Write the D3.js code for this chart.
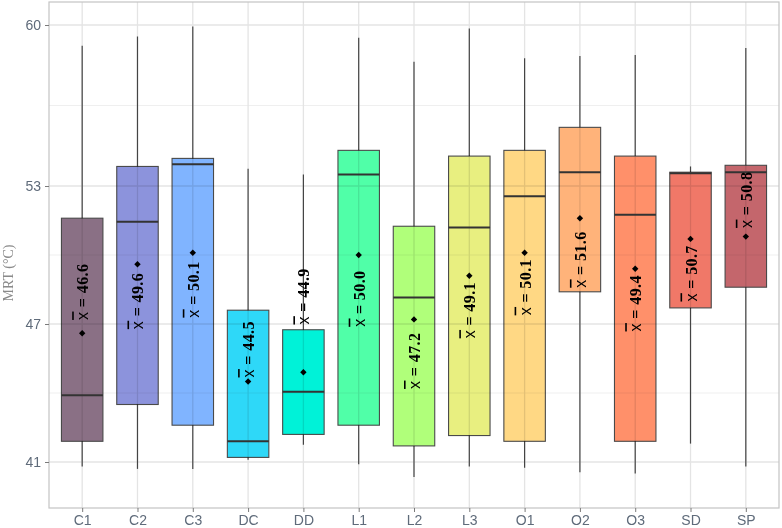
<!DOCTYPE html>
<html>
<head>
<meta charset="utf-8">
<script src="https://cdn.jsdelivr.net/npm/d3@7"></script>
<style>
    body { margin: 0; background: #fff; }
    .axis text { font-family: "Liberation Sans", Arial, sans-serif; font-size: 14px; fill: #5f6b7a; }
    .axis line { stroke: #7a7a7a; }
    .axis path { display: none; }
</style>
</head>
<body>
<svg id="chart" width="782" height="528"></svg>
<script>
    // values (MRT in °C)
    const categories = ["C1", "C2", "C3", "DC", "DD", "L1", "L2", "L3", "O1", "O2", "O3", "SD", "SP"]
    const whiskerLow  = [40.8, 40.7, 40.7, 41.1, 41.75, 40.9, 40.35, 40.8, 40.75, 40.55, 40.5, 41.8, 40.8]
    const q1          = [41.9, 43.5, 42.6, 41.2, 42.2, 42.6, 41.7, 42.15, 41.9, 48.4, 41.9, 47.7, 48.6]
    const medians     = [43.9, 51.45, 53.95, 41.9, 44.05, 53.5, 48.15, 51.2, 52.55, 53.6, 51.75, 53.55, 53.6]
    const q3          = [51.6, 53.85, 54.2, 47.6, 46.75, 54.55, 51.25, 54.3, 54.55, 55.55, 54.3, 53.6, 53.9]
    const whiskerHigh = [59.1, 59.5, 59.93, 53.75, 53.5, 59.45, 58.4, 59.85, 58.55, 58.65, 58.7, 53.85, 59.0]
    const means       = [46.6, 49.6, 50.1, 44.5, 44.9, 50.0, 47.2, 49.1, 50.1, 51.6, 49.4, 50.7, 50.8]
    const labelAt     = [48.4, 48.0, 48.5, 45.9, 48.2, 48.1, 45.4, 47.6, 48.6, 49.8, 47.9, 49.2, 52.4]
    const yTicks = [41, 47, 53, 60]
    const yMinor = [44, 50, 56.5]

    const palette = ["#8a7085", "#8c93dc", "#80b4ff", "#2ed8f8", "#00f2d8", "#50ffa8", "#b0ff7a",
                     "#e8ef80", "#ffd884", "#ffb37a", "#ff906a", "#f07868", "#c4666c"]

    const svg = d3.select("#chart")
    const pLeft = 49, pRight = 779, pTop = 2, pBottom = 508

    let x = d3.scalePoint().domain(categories).range([pLeft, pRight]).padding(0.6)
    let y = d3.scaleLinear().domain([39, 61]).range([pBottom, pTop])
    let color = d3.scaleOrdinal().domain(categories).range(palette)
    let boxW = x.step() * 0.75

    let data = categories.map((c, i) => ({
        cat: c, lo: whiskerLow[i], q1: q1[i], med: medians[i], q3: q3[i],
        hi: whiskerHigh[i], mean: means[i], lab: labelAt[i]
    }))

    // grid
    let grid = svg.append("g")
    grid.selectAll(".minor").data(yMinor).enter().append("line")
        .attr("x1", pLeft).attr("x2", pRight)
        .attr("y1", d => y(d)).attr("y2", d => y(d))
        .attr("stroke", "#efefef").attr("stroke-width", 1)
    grid.selectAll(".major").data(yTicks).enter().append("line")
        .attr("x1", pLeft).attr("x2", pRight)
        .attr("y1", d => y(d)).attr("y2", d => y(d))
        .attr("stroke", "#e4e4e4").attr("stroke-width", 1.3)
    grid.selectAll(".vert").data(categories).enter().append("line")
        .attr("x1", d => x(d)).attr("x2", d => x(d))
        .attr("y1", pTop).attr("y2", pBottom)
        .attr("stroke", "#e4e4e4").attr("stroke-width", 1.3)

    // boxes
    let g = svg.selectAll(".box").data(data).enter().append("g")

    g.append("line")
        .attr("x1", d => x(d.cat)).attr("x2", d => x(d.cat))
        .attr("y1", d => y(d.hi)).attr("y2", d => y(d.q3))
        .attr("stroke", "#444").attr("stroke-width", 1.2)
    g.append("line")
        .attr("x1", d => x(d.cat)).attr("x2", d => x(d.cat))
        .attr("y1", d => y(d.q1)).attr("y2", d => y(d.lo))
        .attr("stroke", "#444").attr("stroke-width", 1.2)

    g.append("rect")
        .attr("x", d => x(d.cat) - boxW / 2)
        .attr("width", boxW)
        .attr("y", d => y(d.q3))
        .attr("height", d => y(d.q1) - y(d.q3))
        .attr("fill", d => color(d.cat))
        .style("mix-blend-mode", "multiply")
        .attr("stroke", "#4a4a4a").attr("stroke-width", 1.1)

    g.append("line")
        .attr("x1", d => x(d.cat) - boxW / 2).attr("x2", d => x(d.cat) + boxW / 2)
        .attr("y1", d => y(d.med)).attr("y2", d => y(d.med))
        .attr("stroke", "#333").attr("stroke-width", 2)

    g.append("path")
        .attr("d", d3.symbol(d3.symbolDiamond2, 26))
        .attr("transform", d => "translate(" + x(d.cat) + "," + y(d.mean) + ")")
        .attr("fill", "#000")

    let label = g.append("text")
        .attr("transform", d => "translate(" + x(d.cat) + "," + y(d.lab) + ") rotate(-90)")
        .attr("text-anchor", "middle")
        .attr("dominant-baseline", "central")
        .style("font-family", "'Liberation Serif', 'Times New Roman', serif")
        .style("font-weight", "bold")
        .style("font-size", "16px")
        .style("letter-spacing", "0.4px")
        .attr("fill", "#000")
    label.append("tspan")
        .style("font-family", "'Liberation Sans', Arial, sans-serif")
        .style("font-weight", "normal")
        .style("text-decoration", "overline")
        .text("x")
    label.append("tspan").text(d => " = " + d.mean.toFixed(1))

    // panel border
    svg.append("rect")
        .attr("x", pLeft).attr("y", pTop)
        .attr("width", pRight - pLeft).attr("height", pBottom - pTop)
        .attr("fill", "none").attr("stroke", "#c4c4c4").attr("stroke-width", 1.2)

    // axes
    svg.append("g").attr("class", "axis")
        .attr("transform", "translate(" + pLeft + ",0)")
        .call(d3.axisLeft(y).tickValues(yTicks).tickSize(4).tickPadding(4))
    svg.append("g").attr("class", "axis")
        .attr("transform", "translate(0," + pBottom + ")")
        .call(d3.axisBottom(x).tickSize(4).tickPadding(3))

    svg.append("text")
        .attr("transform", "translate(13,273) rotate(-90)")
        .attr("text-anchor", "middle")
        .style("font-family", "'Liberation Serif', 'Times New Roman', serif")
        .style("font-size", "14px")
        .attr("fill", "#8a8a8a")
        .text("MRT (°C)")
</script>
</body>
</html>
